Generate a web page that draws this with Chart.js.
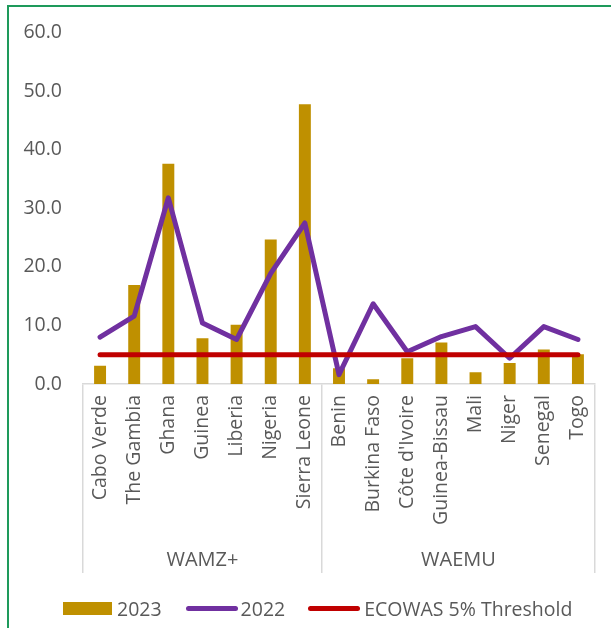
<!DOCTYPE html>
<html>
<head>
<meta charset="utf-8">
<script src="https://cdn.jsdelivr.net/npm/chart.js@4"></script>
<style>
  html, body { margin: 0; padding: 0; background: #fff; }
  #wrap { position: relative; width: 611px; height: 628px; overflow: hidden; }
  #frame { position: absolute; left: 7px; top: 5px; right: -10px; bottom: -10px;
           border-left: 2px solid #1E9A5B; border-top: 2px solid #1E9A5B; pointer-events: none; }
  canvas { position: absolute; left: 0; top: 0; }
  #legend { position: absolute; left: 63px; top: 596px; height: 24px; display: flex; align-items: center;
            font-family: 'Open Sans', sans-serif; font-size: 19.5px; color: #595959; white-space: nowrap; }
  .sw-bar { width: 49px; height: 13px; background: #BF9000; margin-right: 5px; }
  .sw-line { width: 52px; height: 5px; border-radius: 3px; }
</style>
</head>
<body>
<div id="wrap">
  <canvas id="c" width="611" height="628"></canvas>
  <div id="frame"></div>
  <div id="legend">
    <span class="sw-bar"></span><span>2023</span>
    <span class="sw-line" style="background:#7030A0;margin-left:24px;margin-right:3px"></span><span>2022</span>
    <span class="sw-line" style="background:#C00000;margin-left:23px;margin-right:4px"></span><span>ECOWAS 5% Threshold</span>
  </div>
</div>
<script>
// Countries, grouped by monetary zone
const countries = ['Cabo Verde', 'The Gambia', 'Ghana', 'Guinea', 'Liberia', 'Nigeria', 'Sierra Leone',
                   'Benin', 'Burkina Faso', "Côte d'Ivoire", 'Guinea-Bissau', 'Mali', 'Niger', 'Senegal', 'Togo'];
const groups = ['WAMZ+', 'WAEMU'];
const groupSizes = [7, 8];

// Inflation, %
const values2023 = [3.1, 16.9, 37.6, 7.8, 10.1, 24.7, 47.8, 2.7, 0.8, 4.4, 7.1, 2.0, 3.6, 5.9, 5.1];
const values2022 = [8.0, 11.6, 31.8, 10.4, 7.6, 18.9, 27.5, 1.6, 13.7, 5.5, 8.1, 9.8, 4.4, 9.8, 7.6];
const thresholdValue = 5.0;

// Y axis ticks
const yTicks = [0, 10, 20, 30, 40, 50, 60];

// Group centres and boundaries in category units
const groupCenters = [];
const groupBounds = [0];
let start = 0;
groupSizes.forEach(n => { groupCenters.push(start + (n - 1) / 2); start += n; groupBounds.push(start); });

const TEXT = '#595959';
const AXIS = '#D9D9D9';
const FONT = { family: "'Open Sans', sans-serif", size: 19.5 };
const SEP_LEN = 189;

new Chart(document.getElementById('c'), {
  data: {
    labels: countries,
    datasets: [
      { type: 'line', label: 'ECOWAS 5% Threshold', data: countries.map(() => thresholdValue),
        borderColor: '#C00000', borderWidth: 5, borderCapStyle: 'round', pointRadius: 0, order: 0 },
      { type: 'line', label: '2022', data: values2022,
        borderColor: '#7030A0', borderWidth: 5, borderCapStyle: 'round', borderJoinStyle: 'round',
        pointRadius: 0, tension: 0, order: 1 },
      { type: 'bar', label: '2023', data: values2023, backgroundColor: '#BF9000',
        barPercentage: 0.35, categoryPercentage: 1, order: 2 }
    ]
  },
  options: {
    responsive: false,
    animation: false,
    layout: { padding: { left: 0, right: 16, top: 31, bottom: 43 } },
    plugins: { legend: { display: false }, tooltip: { enabled: false } },
    scales: {
      y: {
        min: 0, max: 60,
        afterBuildTicks: s => { s.ticks = yTicks.map(v => ({ value: v })); },
        afterFit: s => { s.width = 83; },
        grid: { display: false, drawTicks: false },
        border: { display: false },
        ticks: { padding: 21, color: TEXT, font: FONT, callback: v => Number(v).toFixed(1) }
      },
      x: {
        type: 'category',
        offset: true,
        afterFit: s => { s.height = 150; },
        border: { display: true, color: AXIS, width: 1.5 },
        grid: {
          offset: true, drawOnChartArea: false, drawTicks: true, tickLength: SEP_LEN, lineWidth: 1.5,
          color: c => (c.index === undefined || groupBounds.slice(0, -1).includes(c.index)) ? AXIS : 'rgba(0,0,0,0)'
        },
        ticks: { autoSkip: false, minRotation: 90, maxRotation: 90, padding: 11 - SEP_LEN,
                 color: TEXT, font: FONT }
      },
      x2: {
        type: 'linear',
        position: 'bottom',
        min: -0.5, max: countries.length - 0.5,
        afterBuildTicks: s => { s.ticks = groupCenters.map(v => ({ value: v })); },
        afterFit: s => { s.height = 51; },
        grid: { display: false, drawTicks: false },
        border: { display: false },
        ticks: { padding: 14, color: TEXT, font: { family: FONT.family, size: 20 },
                 callback: v => groups[groupCenters.indexOf(v)] }
      }
    }
  }
});
</script>
</body>
</html>
